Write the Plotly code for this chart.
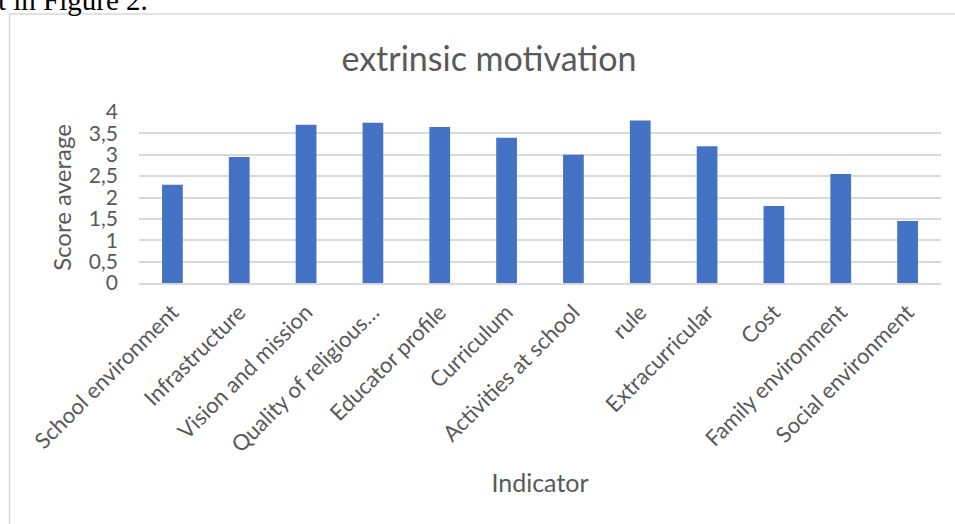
import plotly.graph_objects as go

categories = ["School environment", "Infrastructure", "Vision and mission",
              "Quality of religious…", "Educator profile", "Curriculum",
              "Activities at school", "rule", "Extracurricular", "Cost",
              "Family environment", "Social environment"]
scores = [2.3, 2.95, 3.7, 3.75, 3.65, 3.4, 3.0, 3.8, 3.2, 1.8, 2.55, 1.45]
y_ticks = [0, 0.5, 1, 1.5, 2, 2.5, 3, 3.5, 4]

W, H = 955, 524
L, R, T, B = 139, 14, 112, 241
pw, ph = W - L - R, H - T - B

def px(x):
    return (x - L) / pw

def py(y):
    return (H - B - y) / ph

font = "Lato, 'Open Sans', sans-serif"
grey = "#595959"

fig = go.Figure(go.Bar(x=categories, y=scores, marker=dict(color="#4472C4", line=dict(width=0))))

fig.update_layout(
    width=W, height=H,
    margin=dict(l=L, r=R, t=T, b=B),
    paper_bgcolor="white", plot_bgcolor="white",
    separators=", ",
    bargap=0.69,
    showlegend=False,
    font=dict(family=font, color=grey, size=22),
    title=dict(text="extrinsic motivation", xref="container", x=489 / W, xanchor="center",
               yref="container", y=1 - 59 / H, yanchor="middle",
               font=dict(family=font, size=34, color=grey)),
    xaxis=dict(tickangle=-45, showgrid=False, showline=True, linecolor="#d9d9d9", linewidth=1.5,
               ticks="", ticklabelstandoff=6, tickfont=dict(size=22, color=grey),
               title=dict(text="Indicator", font=dict(size=25, color=grey), standoff=18)),
    yaxis=dict(range=[0, 4], tickvals=y_ticks, showgrid=True, gridcolor="#d9d9d9", gridwidth=1.5,
               zeroline=False, showline=False, ticks="", ticklabelstandoff=20,
               tickfont=dict(size=21, color=grey),
               title=dict(text="Score average", font=dict(size=24, color=grey), standoff=10)),
    shapes=[dict(type="rect", xref="paper", yref="paper",
                 x0=px(9.5), x1=px(965), y0=py(540), y1=py(14),
                 line=dict(color="#d9d9d9", width=1.5), fillcolor="rgba(0,0,0,0)", layer="below")],
    annotations=[dict(text="t in Figure 2.", xref="paper", yref="paper",
                      x=px(-4), y=py(18), xanchor="left", yanchor="bottom", showarrow=False,
                      font=dict(family="'Liberation Serif', serif", size=29, color="black"))],
)

fig.write_html("out.html")
